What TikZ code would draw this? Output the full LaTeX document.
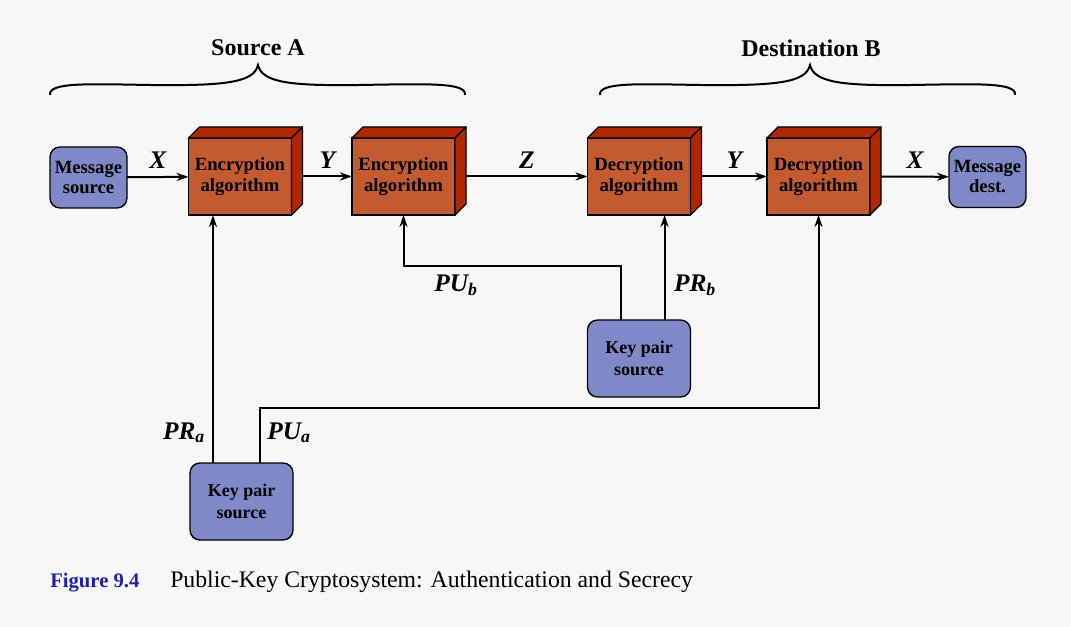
\documentclass[tikz,border=0pt]{standalone}
\usepackage{fontspec}
\setmainfont{Liberation Serif}
\usetikzlibrary{arrows.meta,calc}

\definecolor{bgcol}{HTML}{F7F7F7}
\definecolor{srcblue}{HTML}{7F89C7}
\definecolor{algfront}{HTML}{C45A30}
\definecolor{algdark}{HTML}{B02600}
\definecolor{capblue}{HTML}{2020B0}

\tikzset{
  msgbox/.style={draw, line width=1pt, fill=srcblue, rounded corners=7.5pt,
    minimum width=57.75pt, minimum height=45.75pt, outer sep=0pt,
    align=center, font=\fontsize{14}{15}\selectfont\bfseries, inner sep=1pt},
  keybox/.style={msgbox, minimum width=77.25pt, minimum height=57.75pt,
    font=\fontsize{13.5}{16}\selectfont\bfseries},
  algbox/.style={draw, line width=1pt, fill=algfront, minimum width=77.25pt,
    minimum height=57.75pt, outer sep=0pt, align=center,
    font=\fontsize{14}{16}\selectfont\bfseries},
  cubeside/.style={draw, line width=1pt, fill=algdark, line join=round},
  arr/.style={line width=1.5pt, -{Stealth[length=9pt,width=6pt]}},
  lbl/.style={font=\fontsize{19}{20}\selectfont\bfseries\itshape},
  brace/.style={line width=1.5pt},
  ttl/.style={font=\fontsize{18}{20}\selectfont\bfseries}
}

\newcommand\cubefaces[1]{%
  \filldraw[cubeside] (#1.north west) -- ++(11,-11)
    -- ($(#1.north east)+(11,-11)$) -- (#1.north east) -- cycle;
  \filldraw[cubeside] (#1.north east) -- ++(11,-11)
    -- ($(#1.south east)+(11,-11)$) -- (#1.south east) -- cycle;
}
\newcommand\keylbl[2]{#1\textsubscript{#2}}

\begin{document}
\begin{tikzpicture}[x=0.75pt,y=-0.75pt]

\useasboundingbox (0,0) rectangle (1071,627);
\fill[bgcol] (0,0) rectangle (1071,627);

% message path
\node[msgbox] (msrc) at (88.5,177.5) {Message\\source};
\node[algbox] (enc1) at (240,176.5) {Encryption\\algorithm};
\node[algbox] (enc2) at (403.5,176.5) {Encryption\\algorithm};
\node[algbox] (dec1) at (639,176.5) {Decryption\\algorithm};
\node[algbox] (dec2) at (818.5,176.5) {Decryption\\algorithm};
\node[msgbox] (mdst) at (987.5,177) {Message\\dest.};

\foreach \n in {enc1,enc2,dec1,dec2}{
  \cubefaces{\n}
}

% key sources
\node[keybox] (keyA) at (241.5,501.5) {Key pair\\source};
\node[keybox] (keyB) at (639,358.5) {Key pair\\source};

\draw[arr] (msrc) -- node[lbl,above=2pt] {X} (enc1);
\draw[arr] ($(enc1.east)+(11,0)$) -- node[lbl,above=2pt] {Y} (enc2);
\draw[arr] ($(enc2.east)+(11,0)$) -- node[lbl,above=2pt] {Z} (dec1);
\draw[arr] ($(dec1.east)+(11,0)$) -- node[lbl,above=2pt] {Y} (dec2);
\draw[arr] ($(dec2.east)+(11,0)$) -- node[lbl,above=2pt] {X} (mdst);

% key lines
\coordinate (pra) at ($(keyA.north)+(-28.5,0)$);
\coordinate (pua) at ($(keyA.north)+(18.5,0)$);
\coordinate (pub) at ($(keyB.north)+(-18.5,0)$);
\coordinate (prb) at ($(keyB.north)+(25.5,0)$);
\coordinate (bendA) at (0,408);
\coordinate (bendB) at (0,266);

\draw[arr] (pra) -- (pra |- enc1.south);
\draw[arr] (pua) -- (pua |- bendA) -| (dec2.south);
\draw[arr] (pub) -- (pub |- bendB) -| (enc2.south);
\draw[arr] (prb) -- (prb |- dec1.south);

\node[lbl] (lpra) at (184,433) {\keylbl{PR}{a}};
\node[lbl] (lpua) at (289,433) {\keylbl{PU}{a}};
\node[lbl] (lpub) at (456,285) {\keylbl{PU}{b}};
\node[lbl] (lprb) at (695,285) {\keylbl{PR}{b}};

% braces
\foreach \L/\M/\R in {50/258/465, 600/810/1015}{
  \draw[brace] (\L,95) .. controls (\L-2,82) and (\L+40,84) .. (\L+100,85)
    .. controls (\M-30,86) and (\M-4,82) .. (\M,65)
    .. controls (\M+4,82) and (\M+30,86) .. (\M+100,85)
    .. controls (\R-40,84) and (\R+2,82) .. (\R,95);
}

\node[ttl] (srcA) at (258,48) {Source A};
\node[ttl] (dstB) at (811,48) {Destination B};

% caption
\node[anchor=base west, inner sep=0pt, text=capblue,
  font=\fontsize{15.5}{18}\selectfont\bfseries] (fignum) at (50,587) {Figure 9.4};
\node[anchor=base west, inner sep=0pt, font=\fontsize{17.8}{20}\selectfont]
  (figtxt) at (170,587) {Public-Key Cryptosystem: Authentication and Secrecy};

\end{tikzpicture}
\end{document}
